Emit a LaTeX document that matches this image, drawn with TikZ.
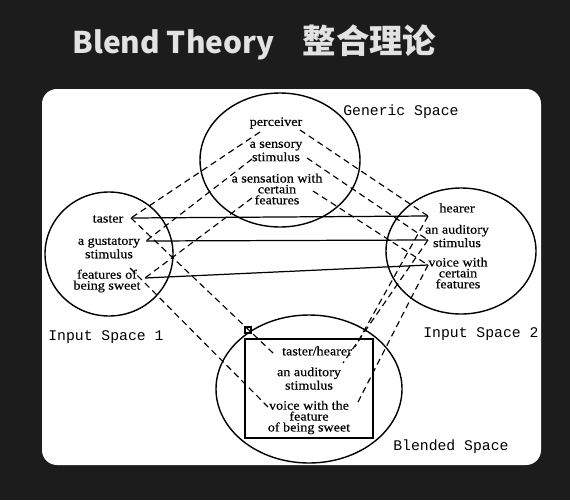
\documentclass[tikz,border=0pt]{standalone}
\usepackage{fontspec}
\newfontfamily\diagfont[FakeStretch=1.1,FakeBold=0.4]{Liberation Serif}
\newfontfamily\spacefont{Liberation Mono}
\newfontfamily\bigtitlefont{Noto Sans CJK SC}
\definecolor{backdrop}{HTML}{1C1C1C}
\definecolor{titlegray}{HTML}{E2E2E2}
\begin{document}
\begin{tikzpicture}[x=0.02cm,y=-0.02cm,
    element/.style={font=\diagfont\fontsize{7.3}{6.2}\selectfont,align=center,inner sep=0pt},
    spacelabel/.style={font=\spacefont\fontsize{8.4}{9}\selectfont,anchor=west,inner sep=0pt},
    ring/.style={line width=0.8pt},
    mapline/.style={line width=0.7pt},
    counterpart/.style={line width=0.65pt,dash pattern=on 3.6pt off 2.4pt}]
      \useasboundingbox (0,0) rectangle (570,500);
      \fill[backdrop] (0,0) rectangle (570,500);
      \node[anchor=base west,inner sep=0pt,text=titlegray,
        font=\bigtitlefont\bfseries\fontsize{17}{22}\selectfont] (title) at (72,53)
        {Blend Theory\hspace{16pt}{\fontsize{19}{22}\selectfont 整合理论}};
      \fill[white,rounded corners=8.5pt] (42,89) rectangle (541,465);
      \draw[ring] (280,160) ellipse [x radius=80,y radius=67];
      \draw[ring] (109,254) ellipse [x radius=64,y radius=62];
      \draw[ring] (461,251) ellipse [x radius=75,y radius=63];
      \draw[ring] (309,389) ellipse [x radius=93,y radius=74];
      \draw[ring] (245,339) rectangle (373,438);
      \draw[line width=0.6pt] (245,327) rectangle (251,333);
      \draw
        (276,123) node[element] (perc) {perceiver}
        (276,151.5) node[element] (sens) {a sensory\\stimulus}
        (277,189) node[element] (feat) {a sensation with\\certain\\features}
        (108,219) node[element] (taster) {taster}
        (109,248) node[element] (gust) {a gustatory\\stimulus}
        (107,281) node[element] (sweet) {features of\\being sweet}
        (457,208) node[element] (hearer) {hearer}
        (457,236) node[element] (aud) {an auditory\\stimulus}
        (458,273) node[element] (voice) {voice with\\certain\\features}
        (317,351) node[element] (th) {taster/hearer}
        (309,378.5) node[element] (baud) {an auditory\\stimulus}
        (309,417.5) node[element] (bvoice) {voice with the\\feature\\of being sweet};
      \node[spacelabel] (generic) at (343,112) {Generic Space};
      \node[spacelabel] (input1) at (48,337) {Input Space 1};
      \node[spacelabel] (input2) at (423,334) {Input Space 2};
      \node[spacelabel] (blended) at (393,447) {Blended Space};
      \coordinate (percL) at (260,132);
      \coordinate (percR) at (300,130);
      \coordinate (sensL) at (252,159);
      \coordinate (sensR) at (307,158);
      \coordinate (featL) at (252,198);
      \coordinate (featR) at (313,191);
      \coordinate (tasterR) at (131,218);
      \coordinate (gustR) at (146,241);
      \coordinate (sweetR) at (145,278);
      \coordinate (sweetT) at (130,268);
      \coordinate (hearerL) at (428,216);
      \coordinate (audL) at (428,240);
      \coordinate (voiceL) at (428,265);
      \coordinate (thL) at (273,353);
      \coordinate (thR) at (355,347);
      \coordinate (baudR) at (343,363);
      \coordinate (bvoiceL) at (268,407);
      \coordinate (bvoiceR) at (358,402);
      \begin{scope}[mapline]
        \draw (tasterR) to (hearerL);
        \draw (gustR) to (audL);
        \draw (sweetR) to (voiceL);
      \end{scope}
      \begin{scope}[counterpart]
        \draw (percL) to (tasterR);
        \draw (sensL) to (gustR);
        \draw (featL) to (sweetR);
        \draw (percR) to (hearerL);
        \draw (sensR) to (audL);
        \draw (featR) to (voiceL);
        \draw (tasterR) to (thL);
        \draw (sweetT) to (bvoiceL);
        \draw (hearerL) to (thR);
        \draw (audL) to (baudR);
        \draw (voiceL) to (bvoiceR);
      \end{scope}
    \end{tikzpicture}
\end{document}
